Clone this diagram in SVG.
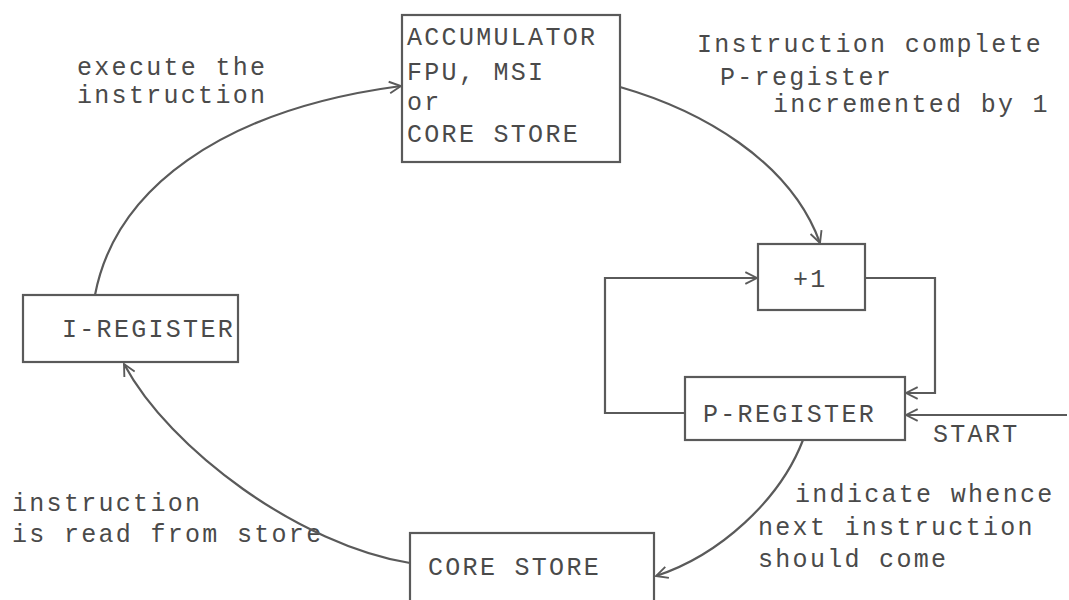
<svg xmlns="http://www.w3.org/2000/svg" width="1069" height="600" viewBox="0 0 1069 600">
<defs>
<style>
.box{fill:none;stroke:#5a5a5a;stroke-width:2.2}
.t{font-family:"Liberation Mono","DejaVu Sans Mono",monospace;font-size:25px;letter-spacing:2.3px;fill:#4a4a4a}
.c{fill:none;stroke:#5a5a5a;stroke-width:2.2}
</style>
<marker id="ah" viewBox="0 0 12 12" refX="11" refY="6" markerWidth="14" markerHeight="14" markerUnits="userSpaceOnUse" orient="auto">
<path d="M1,1 L11,6 L1,11" fill="none" stroke="#5a5a5a" stroke-width="1.6"/>
</marker>
</defs>
<rect width="1069" height="600" fill="#ffffff"/>

<g id="accumulator">
<rect class="box" x="402" y="15" width="218" height="147"/>
<text class="t" x="407" y="45">ACCUMULATOR</text>
<text class="t" x="407" y="80">FPU, MSI</text>
<text class="t" x="407" y="110">or</text>
<text class="t" x="407" y="142">CORE STORE</text>
</g>

<g id="plus1">
<rect class="box" x="758" y="244" width="107" height="66"/>
<text class="t" x="793" y="287">+1</text>
</g>

<g id="p-register">
<rect class="box" x="685" y="377" width="220" height="63"/>
<text class="t" x="703" y="422">P-REGISTER</text>
</g>

<g id="i-register">
<rect class="box" x="23" y="295" width="215" height="67"/>
<text class="t" x="62" y="337">I-REGISTER</text>
</g>

<g id="core-store">
<rect class="box" x="410" y="533" width="244" height="80"/>
<text class="t" x="428" y="575">CORE STORE</text>
</g>

<g id="labels">
<text class="t" x="77" y="75">execute the</text>
<text class="t" x="77" y="103">instruction</text>
<text class="t" x="697" y="52">Instruction complete</text>
<text class="t" x="720" y="85">P-register</text>
<text class="t" x="773" y="112">incremented by 1</text>
<text class="t" x="933" y="442">START</text>
<text class="t" x="795" y="502">indicate whence</text>
<text class="t" x="758" y="535">next instruction</text>
<text class="t" x="758" y="567">should come</text>
<text class="t" x="12" y="511">instruction</text>
<text class="t" x="12" y="542">is read from store</text>
</g>

<g id="connectors">
<path class="c" d="M95,295 C115,190 220,110 401,86" marker-end="url(#ah)"/>
<path class="c" d="M620,87 C700,110 790,160 820,243" marker-end="url(#ah)"/>
<path class="c" d="M685,413 H605 V278 H757" marker-end="url(#ah)"/>
<path class="c" d="M865,278 H935 V393 H906" marker-end="url(#ah)"/>
<path class="c" d="M1067,415 H906" marker-end="url(#ah)"/>
<path class="c" d="M803,440 C780,500 720,555 656,576" marker-end="url(#ah)"/>
<path class="c" d="M410,563 C300,545 170,450 124,364" marker-end="url(#ah)"/>
</g>
</svg>
